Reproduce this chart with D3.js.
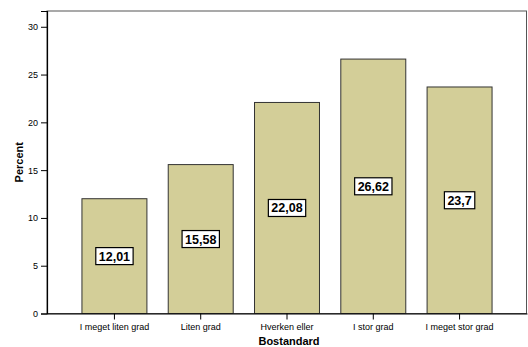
<!DOCTYPE html>
<html>
<head>
<meta charset="utf-8">
<script src="https://cdnjs.cloudflare.com/ajax/libs/d3/7.8.5/d3.min.js"></script>
<style>
  html, body { margin: 0; padding: 0; background: #fff; }
  svg { display: block; font-family: "Liberation Sans", Arial, sans-serif; }
</style>
</head>
<body>
<svg id="chart" width="528" height="347"></svg>
<script>
// Bostandard — percent of respondents per answer category
const categories = ["I meget liten grad", "Liten grad", "Hverken eller", "I stor grad", "I meget stor grad"];
const percents = [12.01, 15.58, 22.08, 26.62, 23.7];
const valueLabels = ["12,01", "15,58", "22,08", "26,62", "23,7"];
const yTicks = [0, 5, 10, 15, 20, 25, 30];

const svg = d3.select("#chart");
const plot = { left: 47, top: 11, right: 527, bottom: 313.5 };

const x = d3.scaleBand()
  .domain(categories)
  .range([plot.left, plot.right])
  .paddingInner(0.247)
  .paddingOuter(0.405);

const y = d3.scaleLinear()
  .domain([0, 31.65])
  .range([plot.bottom, plot.top]);

// plot frame (top and right edges)
svg.append("rect")
  .attr("x", plot.left).attr("y", plot.top)
  .attr("width", plot.right - plot.left - 0.5)
  .attr("height", plot.bottom - plot.top)
  .attr("fill", "none")
  .attr("stroke", "#555")
  .attr("stroke-width", 1);

// bars
svg.append("g").selectAll("rect")
  .data(percents)
  .join("rect")
  .attr("x", (d, i) => x(categories[i]))
  .attr("y", d => y(d))
  .attr("width", x.bandwidth())
  .attr("height", d => y(0) - y(d))
  .attr("fill", "#d3ce98")
  .attr("stroke", "#333")
  .attr("stroke-width", 1);

// y axis
const yAxis = svg.append("g")
  .attr("transform", `translate(${plot.left},0)`)
  .call(d3.axisLeft(y).tickValues(yTicks).tickSize(6).tickPadding(3).tickFormat(d3.format("d")));
yAxis.select(".domain").attr("stroke", "#000").attr("stroke-width", 1.2);
yAxis.selectAll(".tick line").attr("stroke", "#000");
yAxis.selectAll("text").attr("font-size", 9).attr("fill", "#000")
  .attr("font-family", "Liberation Sans, Arial, sans-serif");

// x axis
const xAxis = svg.append("g")
  .attr("transform", `translate(0,${plot.bottom})`)
  .call(d3.axisBottom(x).tickSize(6).tickSizeOuter(0).tickPadding(4));
xAxis.select(".domain").attr("stroke", "#000").attr("stroke-width", 1.2);
xAxis.selectAll(".tick line").attr("stroke", "#000");
xAxis.selectAll("text").attr("font-size", 9).attr("fill", "#000")
  .attr("font-family", "Liberation Sans, Arial, sans-serif");

// value labels in boxed cells at bar midpoints
const labels = svg.append("g").selectAll("g")
  .data(percents)
  .join("g")
  .attr("transform", (d, i) => `translate(${x(categories[i]) + x.bandwidth() / 2},${y(d / 2)})`);

labels.append("text")
  .text((d, i) => valueLabels[i])
  .attr("text-anchor", "middle")
  .attr("dy", "0.36em")
  .attr("font-size", 12.5)
  .attr("font-weight", "bold")
  .attr("fill", "#000");

labels.each(function () {
  const g = d3.select(this);
  const bb = g.select("text").node().getBBox();
  g.insert("rect", "text")
    .attr("x", bb.x - 3)
    .attr("y", -8.5)
    .attr("width", bb.width + 6)
    .attr("height", 17)
    .attr("fill", "#fff")
    .attr("stroke", "#000")
    .attr("stroke-width", 1.2);
});

// axis titles
svg.append("text")
  .attr("x", 289)
  .attr("y", 345)
  .attr("text-anchor", "middle")
  .attr("font-size", 11)
  .attr("font-weight", "bold")
  .text("Bostandard");

svg.append("text")
  .attr("transform", `translate(23,${(plot.top + plot.bottom) / 2}) rotate(-90)`)
  .attr("text-anchor", "middle")
  .attr("font-size", 11)
  .attr("font-weight", "bold")
  .text("Percent");
</script>
</body>
</html>
